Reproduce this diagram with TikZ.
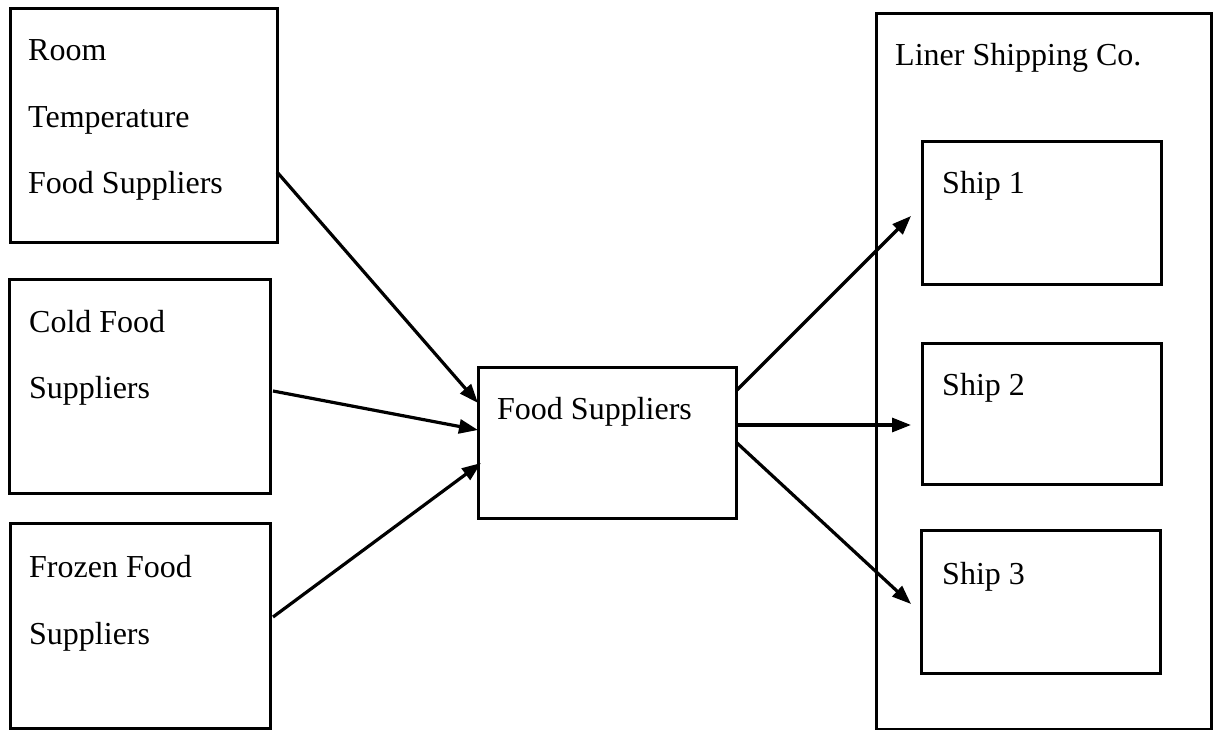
\documentclass[tikz,border=0pt]{standalone}
\usepackage{fontspec}
\setmainfont{Liberation Serif}
\usetikzlibrary{arrows.meta}
\begin{document}
\begin{tikzpicture}[x=1pt,y=-1pt,
  box/.style={draw=black,line width=3pt,rectangle,inner sep=0pt,anchor=north west},
  lbl/.style={anchor=base west,inner sep=0pt,font=\fontsize{32}{40}\selectfont},
  conn/.style={line width=3.2pt,-{Triangle[length=19pt,width=14pt]}}]
\useasboundingbox (0,0) rectangle (1213,730);
% boxes
\node[box,minimum width=267pt,minimum height=234pt] (room) at (9,7) {};
\node[box,minimum width=261pt,minimum height=214pt] (cold) at (8,278) {};
\node[box,minimum width=260pt,minimum height=205pt] (frozen) at (9,522) {};
\node[box,minimum width=258pt,minimum height=151pt] (food) at (477,366) {};
\node[box,minimum width=335pt,minimum height=716pt] (liner) at (875,12) {};
\node[box,minimum width=239pt,minimum height=143pt] (ship1) at (921,140) {};
\node[box,minimum width=239pt,minimum height=141pt] (ship2) at (921,342) {};
\node[box,minimum width=239pt,minimum height=143pt] (ship3) at (920,529) {};
% labels
\node[lbl] (t1a) at (28,61) {Room};
\node[lbl] (t1b) at (28,128) {Temperature};
\node[lbl] (t1c) at (28,194) {Food Suppliers};
\node[lbl] (t2a) at (29,332) {Cold Food};
\node[lbl] (t2b) at (29,398) {Suppliers};
\node[lbl] (t3a) at (29,577) {Frozen Food};
\node[lbl] (t3b) at (29,644) {Suppliers};
\node[lbl] (t4) at (497,419) {Food Suppliers};
\node[lbl] (t5) at (895,66) {Liner Shipping Co.};
\node[lbl] (t6) at (942,194) {Ship 1};
\node[lbl] (t7) at (942,395) {Ship 2};
\node[lbl] (t8) at (942,584) {Ship 3};
% connector end points
\coordinate (a1s) at (277,172);
\coordinate (a1e) at (478,403);
\coordinate (a2s) at (273,391);
\coordinate (a2e) at (478,430);
\coordinate (a3s) at (273,617);
\coordinate (a3e) at (481,463);
\coordinate (a4s) at (737,390);
\coordinate (a4e) at (911,216);
\coordinate (a5s) at (737,425);
\coordinate (a5e) at (911,425);
\coordinate (a6s) at (737,443);
\coordinate (a6e) at (911,604);
\draw[conn] (a1s) -- (a1e);
\draw[conn] (a2s) -- (a2e);
\draw[conn] (a3s) -- (a3e);
\draw[conn] (a4s) -- (a4e);
\draw[conn] (a5s) -- (a5e);
\draw[conn] (a6s) -- (a6e);
\end{tikzpicture}
\end{document}
